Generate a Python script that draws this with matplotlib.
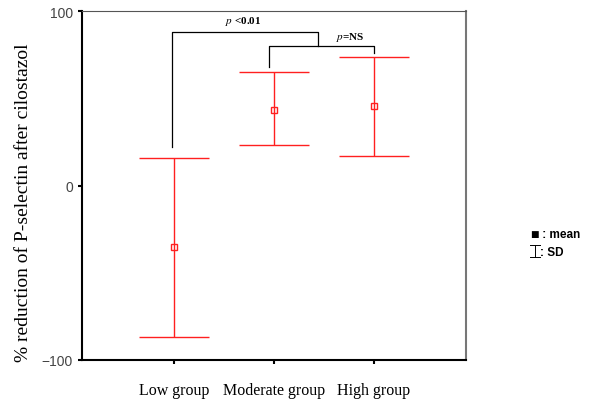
import matplotlib
matplotlib.use("Agg")
import matplotlib.pyplot as plt
from matplotlib.lines import Line2D

plt.rcParams["mathtext.fontset"] = "stix"

# data
groups = ["Low group", "Moderate group", "High group"]
means = [-35, 43.5, 45.3]
upper = [16, 65.3, 73.4]
lower = [-87, 23, 17]

xs = [1, 2, 3]
err_lo = [m - l for m, l in zip(means, lower)]
err_hi = [u - m for m, u in zip(means, upper)]

fig = plt.figure(figsize=(5.91, 4.02), dpi=100)
ax = fig.add_axes([0.1387, 0.102, 0.6497, 0.868])

ax.errorbar(xs, means, yerr=[err_lo, err_hi], fmt="s", color="#ff2020",
            mfc="none", mec="#ff2020", ms=5, mew=1.0, elinewidth=1.0,
            capsize=25, capthick=1.0)

ax.set_xlim(0.08, 3.92)
ax.set_ylim(-100, 100)
ax.set_yticks([-100, 0, 100])
ax.set_xticks(xs)
ax.set_xticklabels(groups, family="Liberation Serif", fontsize=11.5)
ax.tick_params(axis="x", length=3, width=1.5, pad=13)
ax.tick_params(axis="y", length=3, width=1.5, labelsize=10, labelcolor="#444444")
for lab in ax.get_yticklabels():
    lab.set_family("Liberation Sans")

ax.spines["left"].set_linewidth(1.5)
ax.spines["bottom"].set_linewidth(1.5)
ax.spines["top"].set_color("#555555")
ax.spines["right"].set_color("#777777")
ax.spines["right"].set_linewidth(1.5)

ax.set_ylabel("% reduction of P-selectin after cilostazol",
              family="Liberation Serif", fontsize=14)
ax.yaxis.set_label_coords(-0.129, 0.453)

# significance brackets
k = "black"
ax.plot([0.98, 0.98, 2.44, 2.44], [22, 88, 88, 80], color=k, lw=0.9)
ax.plot([1.95, 1.95, 3.0, 3.0], [68, 80, 80, 76], color=k, lw=0.9)
ax.text(1.69, 91, r"$\mathit{p}$ <0.01", family="Liberation Serif",
        fontsize=8, fontweight="bold", ha="center", va="bottom")
ax.text(2.76, 81.5, r"$\mathit{p}$=NS", family="Liberation Serif",
        fontsize=8, fontweight="bold", ha="center", va="bottom")

# legend on the right
fig.text(534 / 591, 1 - 235 / 402, "\u25a0", fontsize=6.5, ha="center", va="center")
fig.text(539 / 591, 1 - 235 / 402, " : mean", fontsize=8.5, fontweight="bold",
         family="Liberation Sans", ha="left", va="center")
x0, x1, xm = 530 / 591, 540 / 591, 535 / 591
y0, y1 = 1 - 246 / 402, 1 - 258 / 402
for xx, yy in [([x0, x1], [y0, y0]), ([x0, x1], [y1, y1]), ([xm, xm], [y0, y1])]:
    fig.add_artist(Line2D(xx, yy, color="black", lw=0.7, transform=fig.transFigure))
fig.text(540 / 591, 1 - 253 / 402, ": SD", fontsize=8.5, fontweight="bold",
         family="Liberation Sans", ha="left", va="center")

fig.savefig("out.png", dpi=100)
